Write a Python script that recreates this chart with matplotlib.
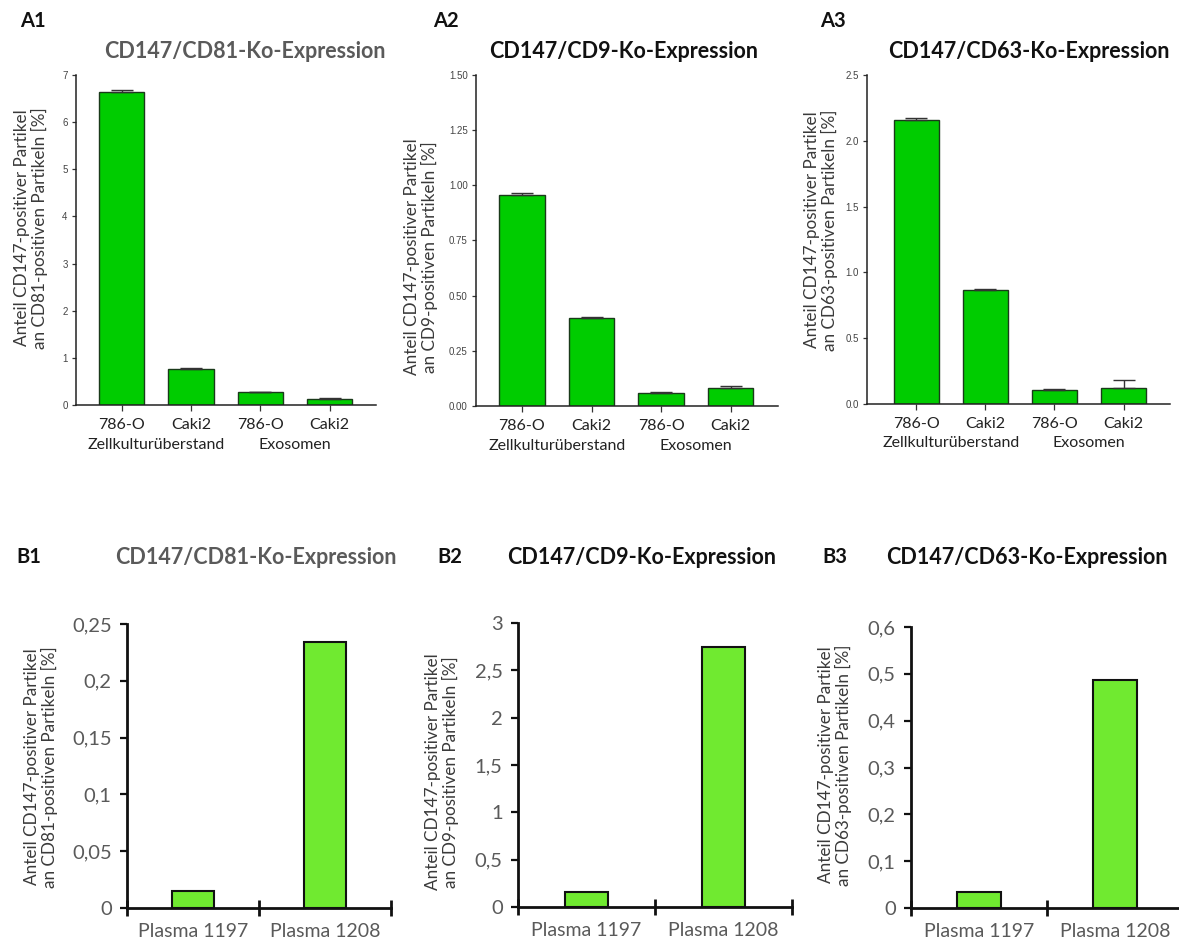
import numpy as np
import matplotlib.pyplot as plt

W, H = 1179, 946

# --- data ---
cats_a = ["786-O", "Caki2", "786-O", "Caki2"]
groups_a = ["Zellkulturüberstand", "Exosomen"]
cd81_a = [6.65, 0.77, 0.27, 0.13]
cd81_a_err = [0.04, 0.01, 0.005, 0.02]
cd9_a = [0.955, 0.40, 0.06, 0.08]
cd9_a_err = [0.01, 0.005, 0.002, 0.009]
cd63_a = [2.16, 0.87, 0.11, 0.125]
cd63_a_err = [0.015, 0.005, 0.005, 0.055]

cats_b = ["Plasma 1197", "Plasma 1208"]
cd81_b = [0.015, 0.234]
cd9_b = [0.16, 2.75]
cd63_b = [0.035, 0.487]

titles = ["CD147/CD81-Ko-Expression", "CD147/CD9-Ko-Expression", "CD147/CD63-Ko-Expression"]
ylab = ["Anteil CD147-positiver Partikel\nan CD81-positiven Partikeln [%]",
        "Anteil CD147-positiver Partikel\nan CD9-positiven Partikeln [%]",
        "Anteil CD147-positiver Partikel\nan CD63-positiven Partikeln [%]"]

plt.rcParams['font.family'] = ['Lato', 'DejaVu Sans']

fig = plt.figure(figsize=(W / 100, H / 100), dpi=100)


def ax_px(x0, y0, x1, y1):
    # pixel box (top-left origin) -> figure axes
    return fig.add_axes([x0 / W, 1 - y1 / H, (x1 - x0) / W, (y1 - y0) / H])


def ftext(x, y, s, **kw):
    fig.text(x / W, 1 - y / H, s, **kw)


green_a = '#00cc00'
green_b = '#70ea30'

# ---------- row A ----------
a_boxes = [(76, 75, 376, 405), (476, 75, 778, 406), (867, 75, 1170, 404)]
a_xlim = [(-0.66, 3.67), (-0.66, 3.68), (-0.71, 3.67)]
a_vals = [(cd81_a, cd81_a_err, 7, np.arange(0, 8, 1), "{:.0f}"),
          (cd9_a, cd9_a_err, 1.5, np.arange(0, 1.51, 0.25), "{:.2f}"),
          (cd63_a, cd63_a_err, 2.5, np.arange(0, 2.51, 0.5), "{:.1f}")]
a_title_x = [245, 624, 1029]
a_lab_x = [20, 433, 820]
a_ylab = [(31, 228), (421, 257), (821, 230)]

for i in range(3):
    ax = ax_px(*a_boxes[i])
    vals, err, top, ticks, fmt = a_vals[i]
    x = np.arange(len(vals))
    ax.bar(x, vals, width=0.65, color=green_a, edgecolor='#1a3a1a', linewidth=1.0, zorder=2)
    ax.errorbar(x, vals, yerr=[np.zeros(len(vals)), err], fmt='none', ecolor='#333333',
                elinewidth=1.0, capsize=8, capthick=1.0, zorder=3)
    ax.set_xlim(*a_xlim[i])
    ax.set_ylim(0, top)
    ax.set_yticks(ticks)
    ax.set_yticklabels([fmt.format(t) for t in ticks], fontfamily='Liberation Sans',
                       fontsize=7, color='#444444')
    ax.set_xticks(x)
    ax.set_xticklabels(cats_a, fontsize=11.5, color='#222222')
    ax.tick_params(axis='y', length=3, width=0.9, color='#333333', pad=3)
    ax.tick_params(axis='x', length=4, width=0.9, color='#333333', pad=5)
    for s in ['top', 'right']:
        ax.spines[s].set_visible(False)
    for s in ['left', 'bottom']:
        ax.spines[s].set_linewidth(1.1)
        ax.spines[s].set_color('#222222')
    # group labels below the categories
    ax.text(0.5, -0.12, groups_a[0], transform=ax.get_xaxis_transform(), ha='center',
            va='center', fontsize=11.5, color='#222222')
    ax.text(2.5, -0.12, groups_a[1], transform=ax.get_xaxis_transform(), ha='center',
            va='center', fontsize=11.5, color='#222222')

    ftext(a_title_x[i], 52, titles[i], ha='center', va='center', fontsize=15.5,
          fontweight='bold', color='#5a5a5a' if i == 0 else '#111111')
    ftext(a_lab_x[i], 21, "A%d" % (i + 1), ha='left', va='center', fontsize=14.5,
          fontweight='bold', color='#111111')
    ftext(a_ylab[i][0], a_ylab[i][1], ylab[i], ha='center', va='center', rotation=90,
          fontsize=12.3, color='#3a3a3a', multialignment='center', linespacing=1.1)

# ---------- row B ----------
b_boxes = [(127, 624, 391, 908), (518, 623, 792, 907), (911, 627, 1183, 908)]
b_vals = [(cd81_b, 0.25, np.arange(0, 0.251, 0.05)),
          (cd9_b, 3, np.arange(0, 3.01, 0.5)),
          (cd63_b, 0.6, np.arange(0, 0.61, 0.1))]
b_title_x = [256, 642, 1027]
b_lab_x = [16, 437, 822]
b_ylab = [(41, 767), (442, 772), (835, 765)]


def comma(v):
    s = ("%.2f" % v).rstrip('0').rstrip('.')
    return s.replace('.', ',')


for i in range(3):
    ax = ax_px(*b_boxes[i])
    vals, top, ticks = b_vals[i]
    x = np.arange(len(vals))
    ax.bar(x, vals, width=0.32, color=green_b, edgecolor='#111111', linewidth=1.5, zorder=2)
    ax.set_xlim(-0.5, 1.5)
    ax.set_ylim(0, top)
    ax.set_yticks(ticks)
    ax.set_yticklabels([comma(t) for t in ticks], fontsize=14.5, color='#5a5a5a')
    ax.set_xticks([-0.5, 0.5, 1.5])
    ax.set_xticklabels([])
    ax.set_xticks(x, minor=True)
    ax.set_xticklabels(cats_b, minor=True, fontsize=14, color='#5a5a5a')
    ax.tick_params(axis='x', which='minor', length=0, pad=11)
    ax.tick_params(axis='x', which='major', direction='inout', length=12, width=2, color='#111111')
    ax.tick_params(axis='y', direction='out', length=5, width=1.6, color='#111111', pad=6)
    for s in ['top', 'right']:
        ax.spines[s].set_visible(False)
    for s in ['left', 'bottom']:
        ax.spines[s].set_linewidth(2)
        ax.spines[s].set_color('#111111')

    ftext(b_title_x[i], 557, titles[i], ha='center', va='center', fontsize=15.5,
          fontweight='bold', color='#5a5a5a' if i == 0 else '#111111')
    ftext(b_lab_x[i], 557, "B%d" % (i + 1), ha='left', va='center', fontsize=14.5,
          fontweight='bold', color='#111111')
    ftext(b_ylab[i][0], b_ylab[i][1], ylab[i], ha='center', va='center', rotation=90,
          fontsize=12.3, color='#3a3a3a', multialignment='center', linespacing=1.1)

fig.savefig("out.png", dpi=100)
